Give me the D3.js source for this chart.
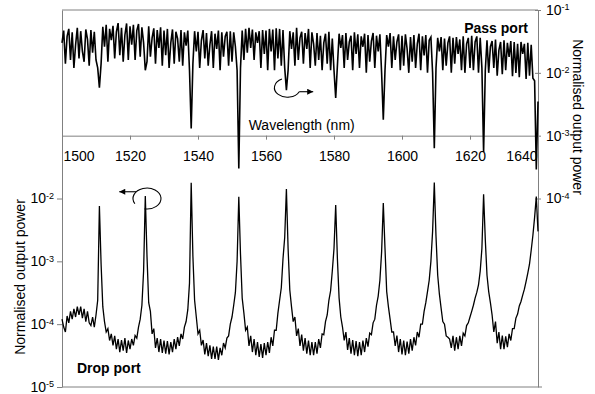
<!DOCTYPE html>
<html>
<head>
<meta charset="utf-8">
<script src="https://cdn.jsdelivr.net/npm/d3@7.9.0/dist/d3.min.js"></script>
<style>
  html, body { margin: 0; padding: 0; background: #fff; }
  svg { display: block; font-family: "Liberation Sans", Arial, sans-serif; }
</style>
</head>
<body>
<svg id="chart" width="595" height="394"></svg>
<script>
// spectrum sampled every 0.5 nm from 1500 nm
const wlStart = 1500;
const wlStep = 0.5;

// pass port, normalised output power (right axis)
const passPower = [
  0.03,0.047,0.014,0.038,0.05,0.016,0.044,0.012,0.028,0.052,
  0.017,0.046,0.022,0.015,0.049,0.034,0.013,0.048,0.021,0.045,
  0.016,0.012,0.0058,0.014,0.054,0.026,0.058,0.015,0.05,0.033,
  0.056,0.017,0.045,0.062,0.019,0.052,0.015,0.04,0.061,0.016,
  0.055,0.028,0.058,0.016,0.047,0.06,0.018,0.053,0.03,0.011,
  0.015,0.055,0.018,0.036,0.051,0.014,0.048,0.025,0.053,0.013,
  0.047,0.019,0.05,0.012,0.03,0.049,0.014,0.045,0.035,0.015,
  0.048,0.013,0.044,0.027,0.047,0.011,0.0013,0.014,0.046,0.022,
  0.045,0.012,0.033,0.048,0.017,0.043,0.013,0.028,0.046,0.012,
  0.042,0.024,0.047,0.011,0.044,0.018,0.038,0.045,0.013,0.046,
  0.015,0.044,0.026,0.011,0.0003,0.012,0.047,0.016,0.05,0.021,
  0.052,0.025,0.049,0.016,0.044,0.03,0.046,0.012,0.048,0.02,
  0.047,0.011,0.05,0.022,0.049,0.011,0.051,0.017,0.05,0.013,
  0.048,0.012,0.0053,0.011,0.046,0.024,0.044,0.013,0.052,0.016,
  0.036,0.045,0.014,0.043,0.024,0.05,0.012,0.044,0.029,0.013,
  0.043,0.016,0.039,0.011,0.03,0.042,0.014,0.045,0.011,0.035,
  0.011,0.004,0.013,0.042,0.025,0.04,0.012,0.043,0.016,0.031,
  0.039,0.011,0.044,0.02,0.041,0.012,0.038,0.026,0.042,0.01,
  0.04,0.015,0.032,0.043,0.012,0.039,0.022,0.041,0.01,0.0018,
  0.011,0.04,0.026,0.043,0.012,0.038,0.016,0.031,0.041,0.011,
  0.039,0.013,0.041,0.024,0.01,0.037,0.015,0.04,0.012,0.029,
  0.042,0.011,0.038,0.019,0.04,0.01,0.033,0.037,0.01,0.00063,
  0.012,0.036,0.022,0.037,0.011,0.035,0.013,0.03,0.038,0.01,
  0.036,0.014,0.037,0.02,0.034,0.011,0.038,0.01,0.029,0.036,
  0.012,0.039,0.011,0.031,0.038,0.01,0.036,0.012,0.00055,0.011,
  0.033,0.01,0.026,0.032,0.012,0.034,0.009,0.023,0.031,0.0095,
  0.033,0.011,0.03,0.018,0.032,0.0088,0.031,0.01,0.029,0.0085,
  0.031,0.02,0.029,0.008,0.03,0.009,0.028,0.0082,0.0075,0.00029,
  0.0035
];

// drop port, normalised output power (left axis)
const dropPower = [
  1.2e-4,9e-5,7.5e-5,1.35e-4,1.05e-4,1.6e-4,1.2e-4,1.75e-4,1.3e-4,1.9e-4,
  1.4e-4,1.9e-4,1.25e-4,1.75e-4,1.1e-4,1.6e-4,1.05e-4,9.5e-5,1.3e-4,9e-5,
  1.4e-4,2.4e-4,7.6e-3,9e-4,1.9e-4,1.1e-4,7.5e-5,8.5e-5,5.5e-5,7e-5,
  4.6e-5,6.5e-5,4e-5,5.8e-5,3.6e-5,5.6e-5,3.8e-5,6e-5,3.5e-5,5.5e-5,
  4e-5,5.8e-5,4.6e-5,6.6e-5,6e-5,9e-5,1.2e-4,2e-4,7e-4,1.1e-2,
  1.2e-3,2.2e-4,1.6e-4,7e-5,8.5e-5,4.2e-5,6e-5,3.6e-5,5.8e-5,3.5e-5,
  5.5e-5,3.4e-5,5.4e-5,3.3e-5,5.2e-5,3.6e-5,5.8e-5,4e-5,6.2e-5,4.5e-5,
  7e-5,5.8e-5,9e-5,1.1e-4,1.7e-4,4.5e-4,1.78e-2,1.2e-3,2.4e-4,1.3e-4,
  7e-5,8e-5,4.6e-5,5.6e-5,3.3e-5,5e-5,3.1e-5,4.6e-5,2.8e-5,4.4e-5,
  2.8e-5,4.4e-5,2.7e-5,4.2e-5,3.2e-5,5e-5,4.2e-5,6e-5,6.5e-5,1e-4,
  1.3e-4,2e-4,3.2e-4,1e-3,1.07e-2,1.3e-3,2.6e-4,1.5e-4,8e-5,9e-5,
  4.5e-5,6.5e-5,3.6e-5,5.8e-5,3.2e-5,5.2e-5,3e-5,4.8e-5,2.9e-5,5e-5,
  3.2e-5,5.2e-5,3.5e-5,6.2e-5,4.5e-5,8e-5,8e-5,1.5e-4,2.4e-4,3.8e-4,
  1.1e-3,2.4e-3,1.41e-2,1.6e-3,3.5e-4,1.9e-4,1.1e-4,1.3e-4,6.5e-5,8.5e-5,
  4.5e-5,6.8e-5,3.8e-5,6e-5,3.4e-5,5.5e-5,3.2e-5,5.2e-5,3.2e-5,5.2e-5,
  3.4e-5,5.8e-5,4.2e-5,7e-5,6.8e-5,1.1e-4,1.4e-4,2.4e-4,3.4e-4,7e-4,
  1.6e-3,7.9e-3,1.1e-3,2.6e-4,1.3e-4,9e-5,5.5e-5,7.5e-5,3.9e-5,6e-5,
  3.4e-5,5.6e-5,3.2e-5,5.4e-5,3.1e-5,5.2e-5,3.2e-5,5.5e-5,3.6e-5,6e-5,
  4.4e-5,7.2e-5,6.8e-5,1.05e-4,1.2e-4,2e-4,2.8e-4,5e-4,1.4e-3,8.5e-3,
  1.6e-3,3.3e-4,1.9e-4,1.2e-4,7.5e-5,7.5e-5,4.5e-5,6.6e-5,3.6e-5,5.8e-5,
  3.3e-5,5.5e-5,3.2e-5,5.3e-5,3.4e-5,5.8e-5,3.8e-5,6.2e-5,4.6e-5,7.5e-5,
  6.2e-5,1e-4,1e-4,1.6e-4,2.2e-4,3.3e-4,5e-4,1e-3,3e-3,1.8e-2,
  2.5e-3,6e-4,3e-4,1.8e-4,1.1e-4,1e-4,6.5e-5,6.2e-5,5.8e-5,4.2e-5,
  6.5e-5,3.8e-5,6.2e-5,4e-5,6.5e-5,4.5e-5,7.2e-5,6.5e-5,9.5e-5,1.05e-4,
  1.3e-4,1.6e-4,2e-4,2.6e-4,3.2e-4,4.2e-4,7e-4,1.6e-3,1.17e-2,2.2e-3,
  6e-4,3.3e-4,2.2e-4,1.4e-4,7.5e-5,1.1e-4,5e-5,7.5e-5,4e-5,6.6e-5,
  4e-5,6.4e-5,4.3e-5,7e-5,5.5e-5,8.5e-5,8.5e-5,1.25e-4,1.45e-4,1.95e-4,
  2.3e-4,2.9e-4,3.6e-4,4.8e-4,6.5e-4,9e-4,1.5e-3,2.6e-3,5e-3,1.07e-2,
  3e-3
];

const xTicks = [1500, 1520, 1540, 1560, 1580, 1600, 1620, 1640];
const dropTicks = [1e-2, 1e-3, 1e-4, 1e-5];
const passTicks = [1e-1, 1e-2, 1e-3, 1e-4];

const plotLeft = 62, plotRight = 538, plotTop = 10, plotBottom = 387;
const frame = "#808080";

const svg = d3.select("#chart");

const x = d3.scaleLinear().domain([1500, 1640]).range([plotLeft, plotRight]);
const yDrop = d3.scaleLog().domain([1e-5, 1e1]).range([plotBottom, plotTop]);
const yPass = d3.scaleLog().domain([1e-7, 1e-1]).range([plotBottom, plotTop]);

const wl = (i) => wlStart + i * wlStep;

// frame top / bottom
svg.append("line")
  .attr("x1", plotLeft).attr("x2", plotRight)
  .attr("y1", plotTop).attr("y2", plotTop)
  .attr("stroke", frame);
svg.append("line")
  .attr("x1", plotLeft).attr("x2", plotRight + 4)
  .attr("y1", plotBottom).attr("y2", plotBottom)
  .attr("stroke", frame);

function powLabels(g) {
  g.selectAll(".tick text").each(function (d) {
    const t = d3.select(this).text(null);
    t.append("tspan").text("10");
    t.append("tspan")
      .attr("dy", "-0.5em")
      .attr("font-size", 9)
      .text(Math.round(Math.log10(d)));
  });
}

function styleAxis(g) {
  g.attr("font-size", 14).attr("font-family", null);
  g.select(".domain").attr("stroke", frame);
  g.selectAll(".tick line").attr("stroke", frame);
  g.selectAll(".tick text").attr("fill", "#000");
}

// left axis (drop port)
const gLeft = svg.append("g")
  .attr("transform", `translate(${plotLeft},0)`)
  .call(d3.axisLeft(yDrop).tickValues(dropTicks).tickSizeInner(5).tickSizeOuter(0).tickPadding(3));
styleAxis(gLeft);
powLabels(gLeft);

// right axis (pass port)
const gRight = svg.append("g")
  .attr("transform", `translate(${plotRight},0)`)
  .call(d3.axisRight(yPass).tickValues(passTicks).tickSizeInner(3).tickSizeOuter(0).tickPadding(5));
styleAxis(gRight);
gRight.selectAll(".tick line").attr("x1", -3);
powLabels(gRight);

// wavelength axis in the middle
const gX = svg.append("g")
  .attr("transform", `translate(0,${yPass(1e-3)})`)
  .call(d3.axisBottom(x).tickValues(xTicks).tickFormat(d3.format("d"))
    .tickSizeInner(4).tickSizeOuter(0).tickPadding(11));
styleAxis(gX);
gX.selectAll(".tick text")
  .filter((d) => d === xTicks[0])
  .attr("text-anchor", "start").attr("x", 1);
gX.selectAll(".tick text")
  .filter((d) => d === xTicks[xTicks.length - 1])
  .attr("text-anchor", "end").attr("x", -1);

// traces
const passLine = d3.line().x((d, i) => x(wl(i))).y((d) => yPass(d));
const dropLine = d3.line().x((d, i) => x(wl(i))).y((d) => yDrop(d));

svg.append("path")
  .attr("d", passLine(passPower))
  .attr("fill", "none").attr("stroke", "#000").attr("stroke-width", 1.6);
svg.append("path")
  .attr("d", dropLine(dropPower))
  .attr("fill", "none").attr("stroke", "#000").attr("stroke-width", 1.3);

// arrow marker
svg.append("defs").append("marker")
  .attr("id", "head")
  .attr("viewBox", "0 0 10 10")
  .attr("refX", 10).attr("refY", 5)
  .attr("markerWidth", 7).attr("markerHeight", 6)
  .attr("markerUnits", "userSpaceOnUse")
  .attr("orient", "auto")
  .append("path").attr("d", "M0,0L10,5L0,10z").attr("fill", "#000");

// loop + arrow showing which axis belongs to which trace
function loopArrow(cx, cy, rx, ry, a0, a1, sweep, aArrow, len) {
  const pt = (a) => [cx + rx * Math.cos(a * Math.PI / 180), cy + ry * Math.sin(a * Math.PI / 180)];
  const [sx, sy] = pt(a0);
  const [ex, ey] = pt(a1);
  svg.append("path")
    .attr("d", `M${sx},${sy}A${rx},${ry} 0 1 ${sweep} ${ex},${ey}`)
    .attr("fill", "none").attr("stroke", "#000").attr("stroke-width", 1.1);
  const [ax, ay] = pt(aArrow);
  svg.append("line")
    .attr("x1", ax).attr("y1", ay).attr("x2", ax + len).attr("y2", ay)
    .attr("stroke", "#000").attr("stroke-width", 1.1)
    .attr("marker-end", "url(#head)");
}
loopArrow(x(1566.3), yPass(5.8e-3), 13, 9.5, -115, 25, 0, 25, 14);
loopArrow(x(1525), yDrop(1e-2), 14, 10.5, 150, 100, 1, -140, -17);

// texts
svg.append("text")
  .attr("x", x(1570.5)).attr("y", 130)
  .attr("text-anchor", "middle").attr("font-size", 14)
  .text("Wavelength (nm)");

svg.append("text")
  .attr("x", plotRight - 10).attr("y", 33)
  .attr("text-anchor", "end").attr("font-size", 14).attr("font-weight", "bold")
  .text("Pass port");

svg.append("text")
  .attr("x", plotLeft + 15).attr("y", 373)
  .attr("font-size", 14).attr("font-weight", "bold")
  .text("Drop port");

svg.append("text")
  .attr("transform", "translate(25,277) rotate(-90)")
  .attr("text-anchor", "middle").attr("font-size", 14)
  .text("Normalised output power");

svg.append("text")
  .attr("transform", "translate(573,117) rotate(90)")
  .attr("text-anchor", "middle").attr("font-size", 14)
  .text("Normalised output power");
</script>
</body>
</html>
